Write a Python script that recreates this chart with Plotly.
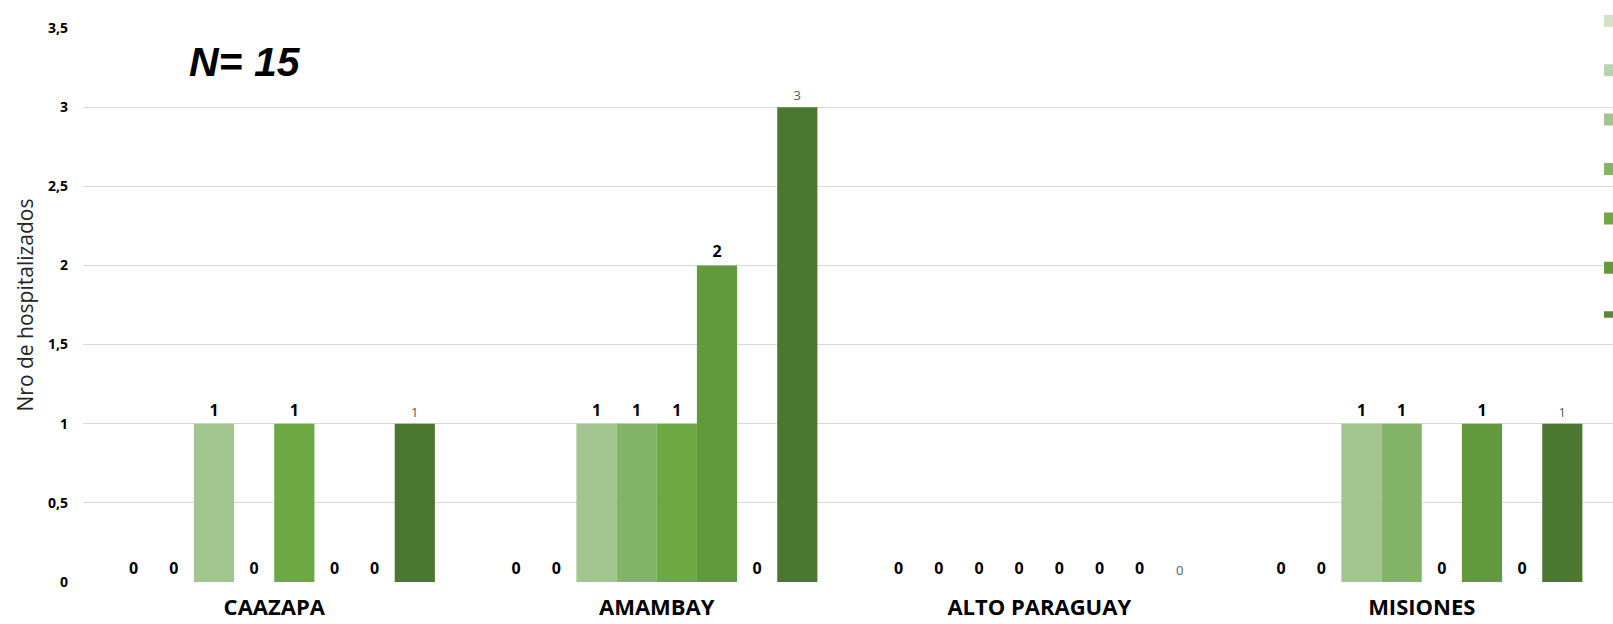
import plotly.graph_objects as go

categories = ["CAAZAPA", "AMAMBAY", "ALTO PARAGUAY", "MISIONES"]
series_names = ["Serie 1", "Serie 2", "Serie 3", "Serie 4", "Serie 5", "Serie 6", "Serie 7", "Serie 8"]
values = [
    [0, 0, 0, 0],  # Serie 1
    [0, 0, 0, 0],  # Serie 2
    [1, 1, 0, 1],  # Serie 3
    [0, 1, 0, 1],  # Serie 4
    [1, 1, 0, 0],  # Serie 5
    [0, 2, 0, 1],  # Serie 6
    [0, 0, 0, 0],  # Serie 7
    [1, 3, 0, 1],  # Serie 8
]
colors = ["#d1e2c9", "#b9d4ad", "#a2c58f", "#82b366", "#6ea843", "#62993d", "#578a38", "#4b7731"]
y_ticks = [0, 0.5, 1, 1.5, 2, 2.5, 3, 3.5]
n_label = "N= 15"
y_title = "Nro de hospitalizados"

fig = go.Figure()
for i, (name, vals, col) in enumerate(zip(series_names, values, colors)):
    last = i == len(series_names) - 1
    tf = dict(family="Open Sans", size=13, color="#595959") if last else \
        dict(family="Open Sans", size=16, color="#000000", weight="bold")
    fig.add_trace(go.Bar(
        x=categories, y=vals, name=name, legendgroup=name,
        marker=dict(color=col, line=dict(width=0)),
        text=[str(v) for v in vals], textposition="outside",
        textfont=tf, outsidetextfont=tf, cliponaxis=False,
    ))

fig.update_layout(
    width=1613, height=624,
    margin=dict(l=83, r=0, t=28, b=42, autoexpand=False),
    paper_bgcolor="white", plot_bgcolor="white",
    barmode="group", bargap=0.16, bargroupgap=0,
    separators=", ",
    showlegend=True,
    legend=dict(x=0.985, xanchor="left", y=1.04, yanchor="top",
                font=dict(family="Open Sans", size=13, color="#404040"),
                tracegroupgap=29.5, traceorder="grouped", bgcolor="rgba(0,0,0,0)"),
    annotations=[dict(text="<b><i>" + n_label + "</i></b>", xref="paper", yref="paper",
                      x=0.106, y=0.9395, xanchor="center", yanchor="middle", showarrow=False,
                      font=dict(family="Liberation Sans", size=41, color="#000000"))],
)
fig.update_xaxes(showgrid=False, showline=False, zeroline=False, ticks="",
                 tickfont=dict(family="Open Sans", size=22, color="#000000", weight="bold"),
                 ticklabelstandoff=10)
fig.update_yaxes(range=[0, 3.5], tickvals=y_ticks, showgrid=True, gridcolor="#d9d9d9", gridwidth=1,
                 zeroline=False, showline=False, ticks="",
                 tickfont=dict(family="Open Sans", size=14, color="#000000", weight="bold"),
                 ticklabelstandoff=14,
                 title=dict(text=y_title, standoff=8,
                            font=dict(family="Open Sans", size=21, color="#262626")))

fig.write_html("out.html", config={"displayModeBar": False},
               post_script="document.body.style.margin='0';document.body.style.overflow='hidden';")
